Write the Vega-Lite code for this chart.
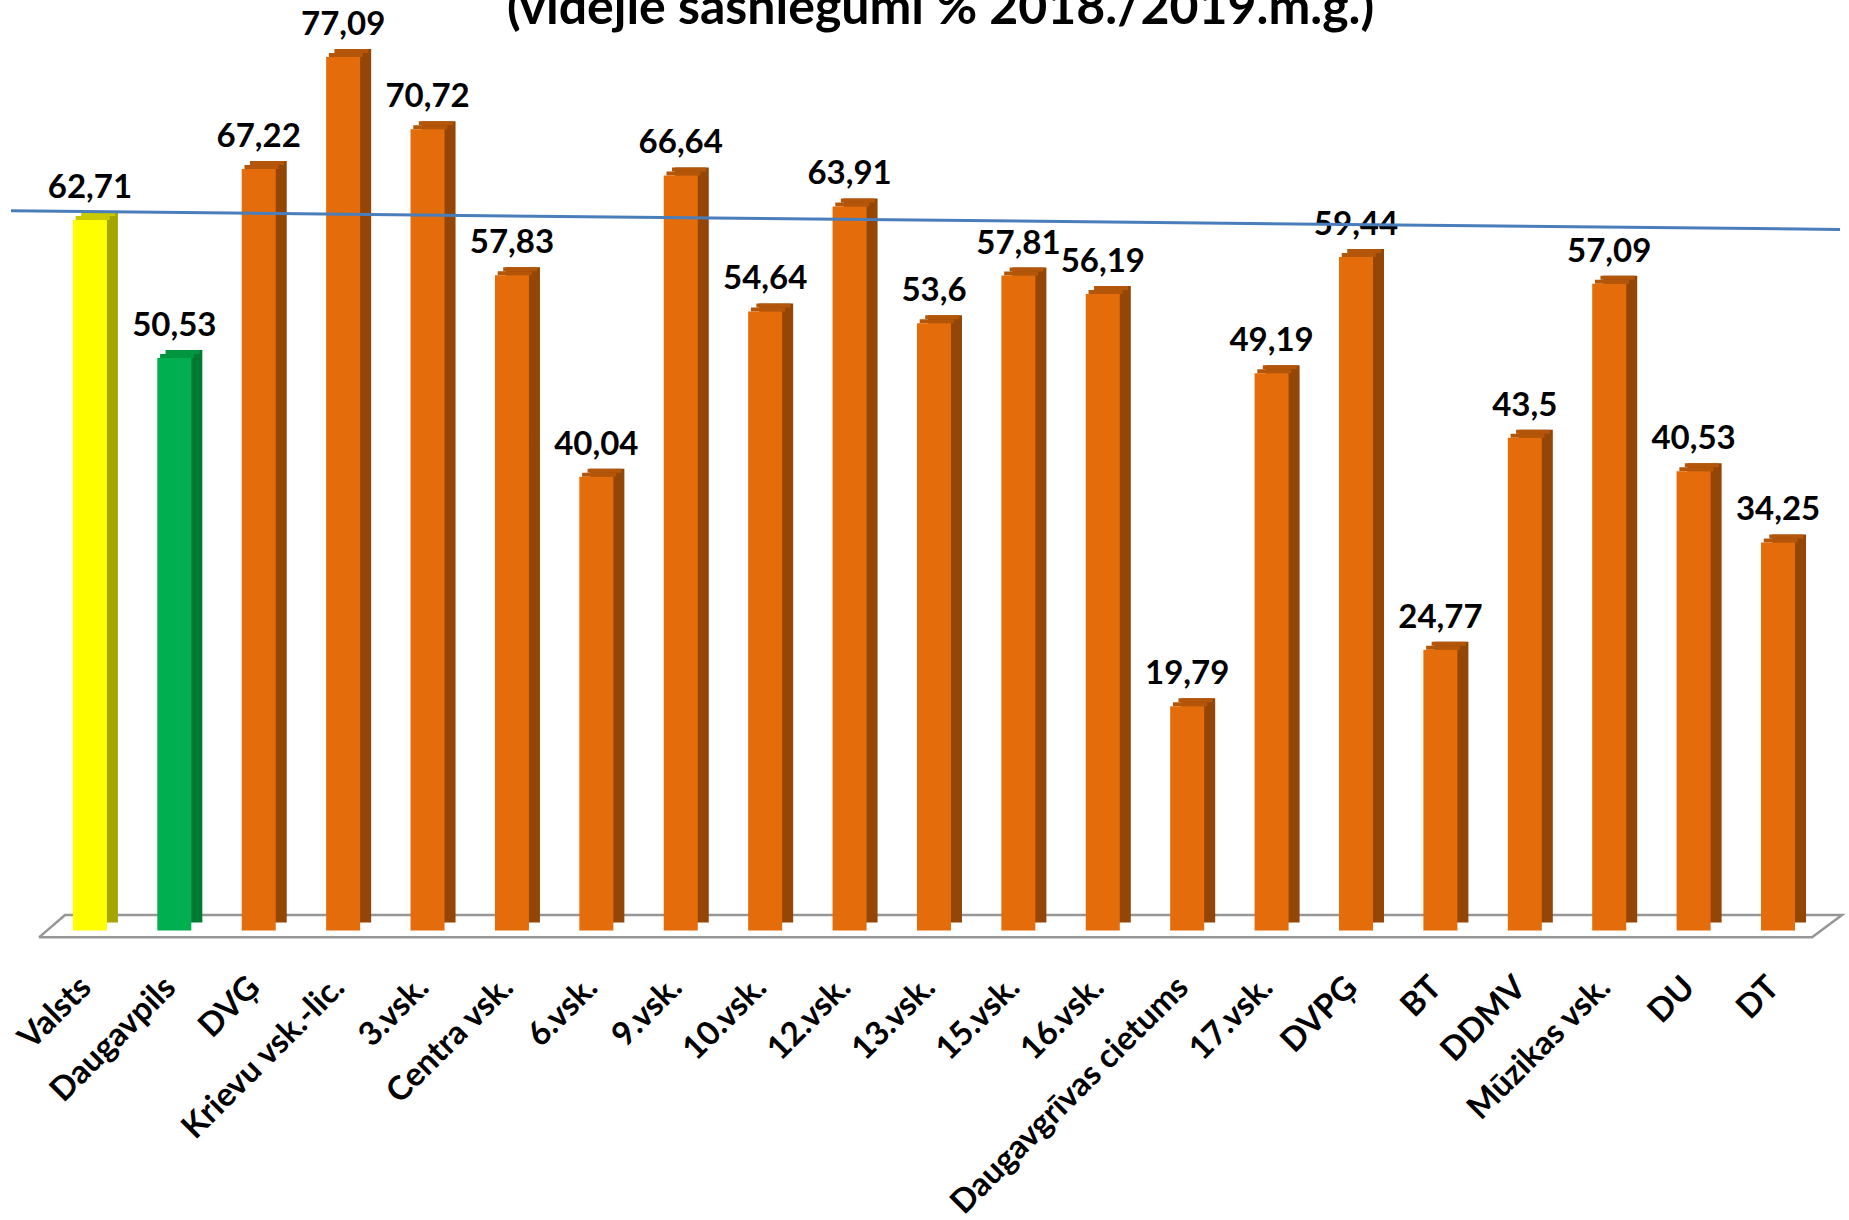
{
  "$schema": "https://vega.github.io/schema/vega-lite/v6.json",
  "width": 1831,
  "height": 925,
  "autosize": {"type": "none"},
  "padding": {"left": 9, "top": 40, "right": 9, "bottom": 255},
  "background": "white",
  "config": {
    "view": {"stroke": null},
    "font": "Lato",
    "locale": {"number": {"decimal": ",", "thousands": " ", "grouping": [3], "currency": ["", " €"]}}
  },
  "title": {
    "text": "(vidējie sasniegumi % 2018./2019.m.g.)",
    "font": "Lato",
    "fontSize": 50,
    "fontWeight": "bold",
    "color": "black",
    "anchor": "middle",
    "frame": "group",
    "baseline": "alphabetic",
    "offset": 0,
    "dx": 16,
    "dy": 65
  },
  "datasets": {
    "scores": [
      {"name": "Valsts", "value": 62.71, "group": "state"},
      {"name": "Daugavpils", "value": 50.53, "group": "city"},
      {"name": "DVĢ", "value": 67.22, "group": "school"},
      {"name": "Krievu vsk.-lic.", "value": 77.09, "group": "school"},
      {"name": "3.vsk.", "value": 70.72, "group": "school"},
      {"name": "Centra vsk.", "value": 57.83, "group": "school"},
      {"name": "6.vsk.", "value": 40.04, "group": "school"},
      {"name": "9.vsk.", "value": 66.64, "group": "school"},
      {"name": "10.vsk.", "value": 54.64, "group": "school"},
      {"name": "12.vsk.", "value": 63.91, "group": "school"},
      {"name": "13.vsk.", "value": 53.6, "group": "school"},
      {"name": "15.vsk.", "value": 57.81, "group": "school"},
      {"name": "16.vsk.", "value": 56.19, "group": "school"},
      {"name": "Daugavgrīvas cietums", "value": 19.79, "group": "school"},
      {"name": "17.vsk.", "value": 49.19, "group": "school"},
      {"name": "DVPĢ", "value": 59.44, "group": "school"},
      {"name": "BT", "value": 24.77, "group": "school"},
      {"name": "DDMV", "value": 43.5, "group": "school"},
      {"name": "Mūzikas vsk.", "value": 57.09, "group": "school"},
      {"name": "DU", "value": 40.53, "group": "school"},
      {"name": "DT", "value": 34.25, "group": "school"}
    ],
    "trend": [
      {"i": -0.936, "v": 63.52},
      {"i": 20.734, "v": 61.88}
    ],
    "floor": [
      {"k": 0, "i": -0.604, "v": -0.609},
      {"k": 1, "i": 20.403, "v": -0.609},
      {"k": 2, "i": 20.758, "v": 1.359},
      {"k": 3, "i": -0.296, "v": 1.359},
      {"k": 4, "i": -0.604, "v": -0.609}
    ]
  },
  "layer": [
    {
      "data": {"name": "floor"},
      "mark": {"type": "line", "stroke": "#969696", "strokeWidth": 2.5},
      "encoding": {
        "x": {"field": "i", "type": "quantitative", "scale": {"domain": [-0.9597, 20.734], "nice": false, "zero": false}, "axis": null},
        "y": {"field": "v", "type": "quantitative", "scale": {"domain": [-3.05, 78.6], "nice": false, "zero": false}, "axis": null},
        "order": {"field": "k", "type": "quantitative"}
      }
    },
    {
      "data": {"name": "scores"},
      "encoding": {
        "x": {
          "field": "name",
          "type": "nominal",
          "sort": null,
          "scale": {"paddingInner": 0.597, "paddingOuter": 0.645, "align": 0.587},
          "axis": {
            "title": null,
            "labelAngle": -45,
            "labelAlign": "right",
            "labelBaseline": "middle",
            "labelFont": "Lato",
            "labelFontSize": 33,
            "labelFontWeight": "bold",
            "labelColor": "black",
            "labelPadding": 17,
            "labelOffset": -4,
            "ticks": false,
            "tickSize": 0,
            "domain": false,
            "grid": false,
            "labelLimit": 600,
            "labelOverlap": false
          }
        },
        "y": {"field": "value", "type": "quantitative", "scale": {"domain": [-3.05, 78.6], "nice": false, "zero": false}, "axis": null}
      },
      "layer": [
        {
          "mark": {"type": "bar", "xOffset": 11, "x2Offset": 11, "yOffset": -8, "y2Offset": -8},
          "encoding": {
            "y2": {"datum": 0},
            "color": {"field": "group", "type": "nominal", "scale": {"domain": ["state", "city", "school"], "range": ["#A5A500", "#007A33", "#944607"]}, "legend": null}
          }
        },
        {
          "mark": {"type": "bar", "xOffset": 8.25, "x2Offset": 8.25, "yOffset": -8, "y2Offset": -4},
          "encoding": {
            "y2": {"field": "value"},
            "color": {"field": "group", "type": "nominal", "scale": {"domain": ["state", "city", "school"], "range": ["#C9C900", "#00963F", "#B3560A"]}, "legend": null}
          }
        },
        {
          "mark": {"type": "bar", "xOffset": 2.75, "x2Offset": 2.75, "yOffset": -4, "y2Offset": 0},
          "encoding": {
            "y2": {"field": "value"},
            "color": {"field": "group", "type": "nominal", "scale": {"domain": ["state", "city", "school"], "range": ["#C9C900", "#00963F", "#B3560A"]}, "legend": null}
          }
        },
        {
          "mark": {"type": "bar"},
          "encoding": {
            "y2": {"datum": 0},
            "color": {"field": "group", "type": "nominal", "scale": {"domain": ["state", "city", "school"], "range": ["#FFFF00", "#00B050", "#E46C0A"]}, "legend": null}
          }
        },
        {
          "mark": {"type": "text", "font": "Lato", "fontSize": 33, "fontWeight": "bold", "baseline": "alphabetic", "dy": -22, "color": "black"},
          "encoding": {
            "text": {"field": "value", "type": "quantitative", "format": ".2~f"}
          }
        }
      ],
      "resolve": {"scale": {"color": "independent"}}
    },
    {
      "data": {"name": "trend"},
      "mark": {"type": "line", "stroke": "#4A7EBB", "strokeWidth": 3},
      "encoding": {
        "x": {"field": "i", "type": "quantitative", "scale": {"domain": [-0.9597, 20.734], "nice": false, "zero": false}, "axis": null},
        "y": {"field": "v", "type": "quantitative", "scale": {"domain": [-3.05, 78.6], "nice": false, "zero": false}, "axis": null}
      }
    }
  ],
  "resolve": {"scale": {"x": "independent"}}
}
